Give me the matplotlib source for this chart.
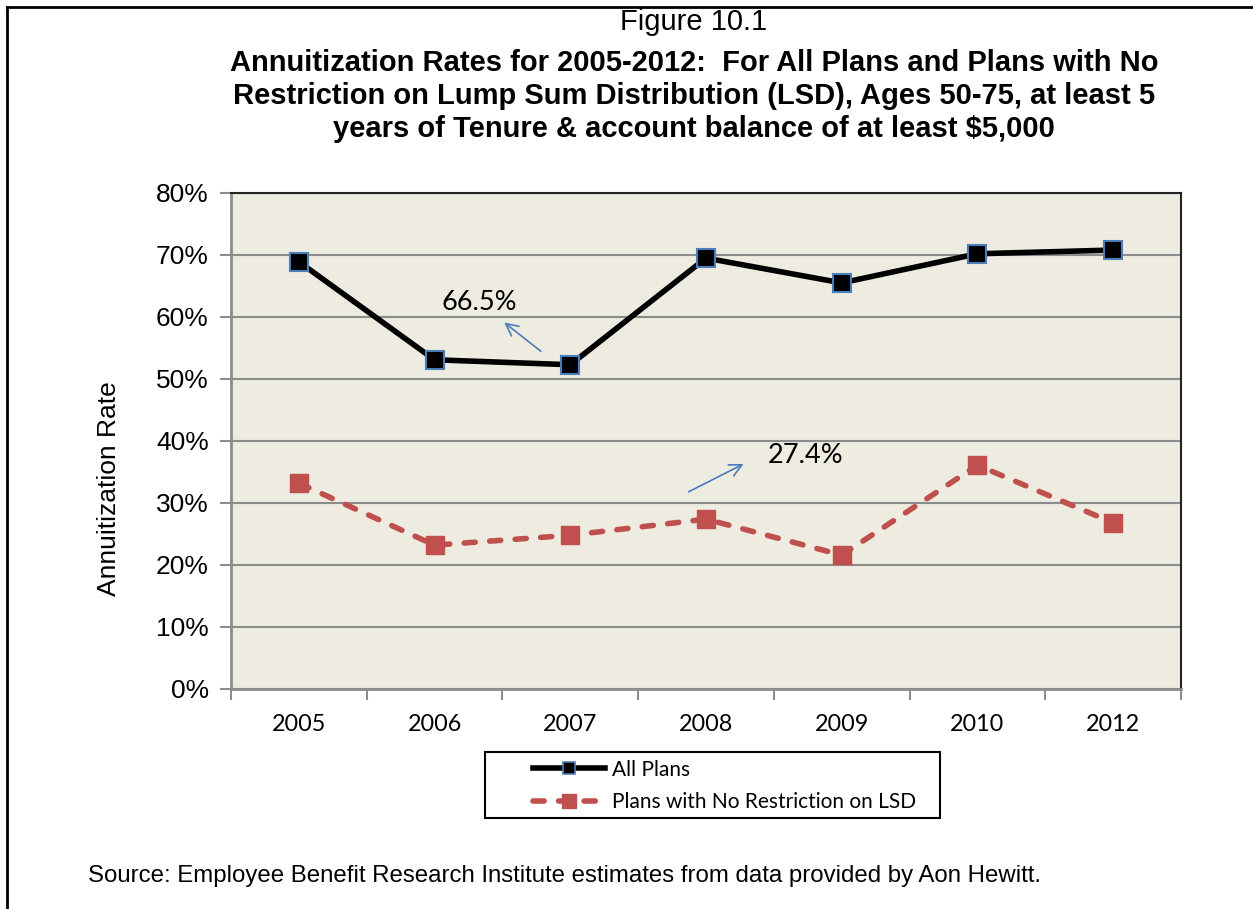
import numpy as np
import matplotlib.pyplot as plt
from matplotlib.lines import Line2D
from matplotlib.patches import Rectangle
from matplotlib.ticker import FuncFormatter, MultipleLocator

years = ['2005', '2006', '2007', '2008', '2009', '2010', '2012']
all_plans = [68.9, 53.1, 52.3, 69.5, 65.5, 70.2, 70.8]
no_restriction = [33.2, 23.2, 24.8, 27.4, 21.6, 36.1, 26.8]

blue = '#4a7ebb'
red = '#c0504d'
calibri = ['Lato', 'DejaVu Sans']
arial = ['Liberation Sans', 'DejaVu Sans']
dashes = (0, (2.0, 2.6))

W, H = 1253, 909
fig = plt.figure(figsize=(W/100, H/100), dpi=100)
ax = fig.add_axes([231/W, 1-689/H, 950/W, 496/H])
ax.set_facecolor('#eeebe0')

x = np.arange(len(years))
ax.plot(x, all_plans, color='black', lw=4, marker='s', ms=12.5,
        mfc='black', mec=blue, mew=1.5, zorder=4)
ax.plot(x, no_restriction, color=red, lw=4, ls=dashes, dash_capstyle='round',
        marker='s', ms=13.5, mfc=red, mec=red, zorder=4)

ax.set_xlim(-0.5, len(years) - 0.5)
ax.set_ylim(0, 80)
ax.yaxis.set_major_locator(MultipleLocator(10))
ax.yaxis.set_major_formatter(FuncFormatter(lambda v, p: '%d%%' % v))
ax.grid(axis='y', color='#8c8c8c', lw=1.5, zorder=1)
ax.set_axisbelow(True)

ax.set_xticks(x)
ax.set_xticklabels(years, fontsize=16.8, family=calibri)
ax.set_xticks(np.arange(len(years) + 1) - 0.5, minor=True)
ax.tick_params(axis='x', which='major', length=0, pad=18)
ax.tick_params(axis='x', which='minor', length=8, width=1.5, color='#8c8c8c')
ax.tick_params(axis='y', length=8, width=1.5, color='#8c8c8c', pad=8)
for lab in ax.get_yticklabels():
    lab.set_fontsize(19)
    lab.set_family(arial)

for s in ['left', 'bottom']:
    ax.spines[s].set_color('#8c8c8c')
    ax.spines[s].set_linewidth(2)
for s in ['top', 'right']:
    ax.spines[s].set_color('#222222')
    ax.spines[s].set_linewidth(1.5)

ax.set_ylabel('Annuitization Rate', fontsize=19, family=arial)
ax.yaxis.set_label_coords((121 - 231) / 950, (689 - 489) / 496)

# callouts
ax.annotate('', xy=(1.497, 59.4), xytext=(1.799, 54.2),
            arrowprops=dict(arrowstyle='->', color=blue, lw=1.2, mutation_scale=22))
ax.text(1.327, 62.4, '66.5%', fontsize=19.5, family=calibri, ha='center', va='center')
ax.annotate('', xy=(3.295, 36.5), xytext=(2.853, 31.6),
            arrowprops=dict(arrowstyle='->', color=blue, lw=1.2, mutation_scale=22))
ax.text(3.737, 37.7, '27.4%', fontsize=19.5, family=calibri, ha='center', va='center')

# titles
fig.text(694/W, 1-22/H, 'Figure 10.1', fontsize=21, family=arial,
         ha='center', va='center')
fig.text(694/W, 1-96/H,
         'Annuitization Rates for 2005-2012:  For All Plans and Plans with No\n'
         'Restriction on Lump Sum Distribution (LSD), Ages 50-75, at least 5\n'
         'years of Tenure & account balance of at least $5,000',
         fontsize=21, family=arial, weight='bold', ha='center', va='center',
         linespacing=1.22)

# legend: box drawn separately, entries placed inside
fig.add_artist(Rectangle((485/W, 1-818/H), 455/W, 66/H, transform=fig.transFigure,
                         facecolor='white', edgecolor='black', lw=1.5))
handles = [
    Line2D([], [], color='black', lw=4, marker='s', ms=9, mfc='black', mec=blue, mew=1.2),
    Line2D([], [], color=red, lw=4, ls=dashes, dash_capstyle='round',
           marker='s', ms=10, mfc=red, mec=red),
]
fig.legend(handles, ['All Plans', 'Plans with No Restriction on LSD'],
           loc='center left', bbox_to_anchor=(533/W, 1-786/H),
           prop={'family': calibri, 'size': 15}, frameon=False,
           handlelength=3.45, borderpad=0, labelspacing=0.62,
           handletextpad=0.35, borderaxespad=0)

fig.text(88/W, 1-876/H,
         'Source: Employee Benefit Research Institute estimates from data provided by Aon Hewitt.',
         fontsize=17.3, family=arial, ha='left', va='center')

# outer frame lines
fig.add_artist(Line2D([7/W, 7/W], [0, 1-7/H], color='black', lw=2,
                      transform=fig.transFigure))
fig.add_artist(Line2D([7/W, 1], [1-7/H, 1-7/H], color='black', lw=2,
                      transform=fig.transFigure))

fig.savefig('out.png', dpi=100)
